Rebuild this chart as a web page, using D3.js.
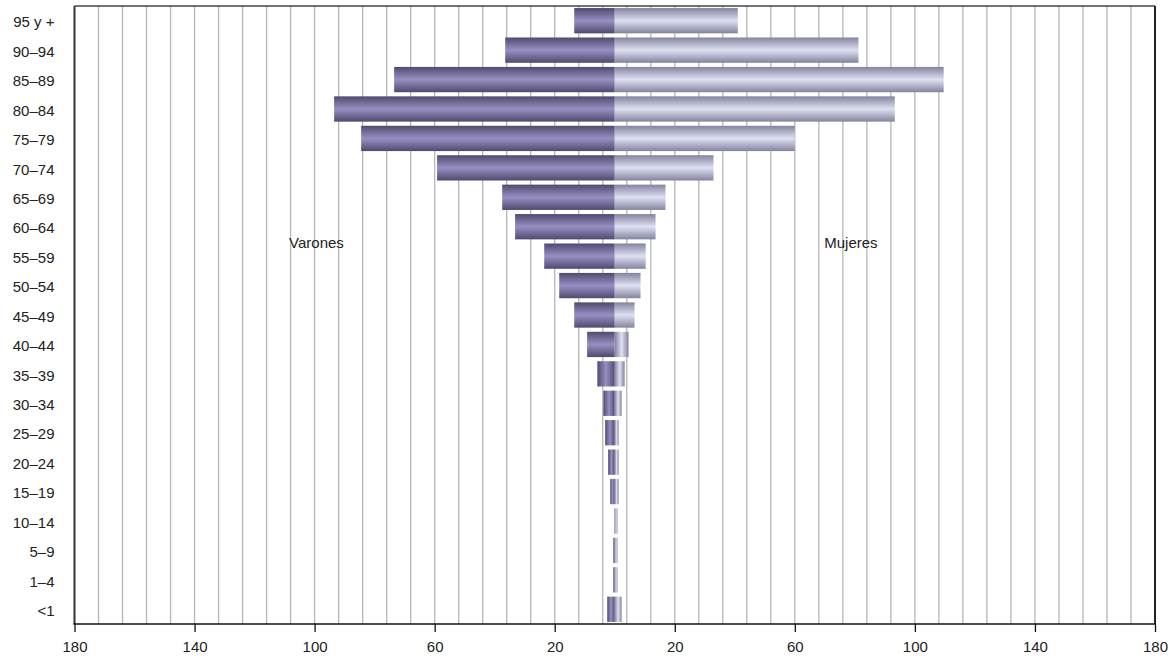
<!DOCTYPE html>
<html>
<head>
<meta charset="utf-8">
<script src="https://cdn.jsdelivr.net/npm/d3@7"></script>
<style>
  html, body { margin: 0; padding: 0; background: #ffffff; }
  svg { display: block; }
  text { font-family: "Liberation Sans", Arial, sans-serif; fill: #222; }
</style>
</head>
<body>
<div id="chart"></div>
<script>
// ---- data ----
const ageGroups = ["95 y +", "90–94", "85–89", "80–84", "75–79", "70–74", "65–69", "60–64",
  "55–59", "50–54", "45–49", "40–44", "35–39", "30–34", "25–29", "20–24", "15–19",
  "10–14", "5–9", "1–4", "<1"];
const males   = [13.5, 36.5, 73.5, 93.5, 84.5, 59.2, 37.5, 33.2, 23.5, 18.5, 13.5, 9.2, 5.8, 3.8, 3.2, 2.2, 1.5, 0.2, 0.5, 0.5, 2.5];
const females = [41.0, 81.2, 109.6, 93.3, 60.0, 32.9, 16.9, 13.6, 10.3, 8.6, 6.6, 4.6, 3.3, 2.3, 1.3, 1.3, 1.3, 0.9, 0.9, 0.9, 2.3];
const tickValues = [-180, -140, -100, -60, -20, 20, 60, 100, 140, 180];
const seriesLabels = ["Varones", "Mujeres"];

// ---- layout ----
const W = 1173, H = 659;
const pLeft = 74.5, pRight = 1155, pTop = 6, pBottom = 624;

const svg = d3.select("#chart").append("svg").attr("width", W).attr("height", H);
svg.append("rect").attr("width", W).attr("height", H).attr("fill", "#fff");

const x = d3.scaleLinear().domain([-180, 180]).range([pLeft, pRight]);
const y = d3.scaleBand().domain(ageGroups).range([pTop, pBottom]).paddingInner(0.14).paddingOuter(0.07);

// gradients
const defs = svg.append("defs");
function grad(id, edge, mid, horizontal) {
  const g = defs.append("linearGradient").attr("id", id)
    .attr("x1", 0).attr("y1", 0)
    .attr("x2", horizontal ? 1 : 0).attr("y2", horizontal ? 0 : 1);
  g.append("stop").attr("offset", "0%").attr("stop-color", edge);
  g.append("stop").attr("offset", "50%").attr("stop-color", mid);
  g.append("stop").attr("offset", "100%").attr("stop-color", edge);
}
grad("gmV", "#4f4b6e", "#978fc3", false);
grad("gmH", "#4f4b6e", "#978fc3", true);
grad("gfV", "#85839f", "#dde1f2", false);
grad("gfH", "#85839f", "#dde1f2", true);

// gridlines every 8 units
const gridVals = d3.range(-180, 181, 8).filter(v => Math.abs(v) !== 180);
svg.append("g").selectAll("line").data(gridVals).join("line")
  .attr("x1", d => x(d)).attr("x2", d => x(d))
  .attr("y1", pTop).attr("y2", pBottom)
  .attr("stroke", "#b6b6b6").attr("stroke-width", 1.3);

// bars
const rows = ageGroups.map((a, i) => ({ a, m: males[i], f: females[i] }));
const bh = y.bandwidth();
const gBars = svg.append("g");
gBars.selectAll("rect.m").data(rows).join("rect").attr("class", "m")
  .attr("x", d => x(-d.m)).attr("y", d => y(d.a))
  .attr("width", d => x(0) - x(-d.m)).attr("height", bh)
  .attr("fill", d => (x(0) - x(-d.m)) < bh * 0.75 ? "url(#gmH)" : "url(#gmV)");
gBars.selectAll("rect.f").data(rows).join("rect").attr("class", "f")
  .attr("x", x(0)).attr("y", d => y(d.a))
  .attr("width", d => x(d.f) - x(0)).attr("height", bh)
  .attr("fill", d => (x(d.f) - x(0)) < bh * 0.75 ? "url(#gfH)" : "url(#gfV)");

// frame
svg.append("line").attr("x1", pLeft).attr("x2", pRight).attr("y1", pTop).attr("y2", pTop)
  .attr("stroke", "#444").attr("stroke-width", 1.6);
svg.append("line").attr("x1", pRight).attr("x2", pRight).attr("y1", pTop).attr("y2", pBottom)
  .attr("stroke", "#222").attr("stroke-width", 2);
svg.append("line").attr("x1", pLeft).attr("x2", pLeft).attr("y1", pTop).attr("y2", pBottom)
  .attr("stroke", "#333").attr("stroke-width", 2);

// x axis
const xAxis = d3.axisBottom(x).tickValues(tickValues).tickSize(8).tickPadding(9.5)
  .tickFormat(d => Math.abs(d));
const gx = svg.append("g").attr("transform", `translate(0,${pBottom})`).call(xAxis);
gx.select(".domain").remove();
gx.selectAll(".tick line").attr("stroke", "#111").attr("stroke-width", 1.3);
gx.selectAll(".tick text").attr("font-size", 15).attr("fill", "#222")
  .attr("font-family", "Liberation Sans, Arial, sans-serif");
svg.append("line").attr("x1", pLeft - 1).attr("x2", pRight + 1).attr("y1", pBottom).attr("y2", pBottom)
  .attr("stroke", "#111").attr("stroke-width", 1.5);

// y axis labels
const yAxis = d3.axisLeft(y).tickSize(0).tickPadding(20);
const gy = svg.append("g").attr("transform", `translate(${pLeft},0)`).call(yAxis);
gy.select(".domain").remove();
gy.selectAll(".tick text").attr("font-size", 15).attr("fill", "#222").attr("dy", "0.45em")
  .attr("font-family", "Liberation Sans, Arial, sans-serif");

// series labels inside plot
svg.append("text").attr("x", x(-108.5)).attr("y", 248).attr("font-size", 15).text(seriesLabels[0]);
svg.append("text").attr("x", x(69.8)).attr("y", 248).attr("font-size", 15).text(seriesLabels[1]);
</script>
</body>
</html>
